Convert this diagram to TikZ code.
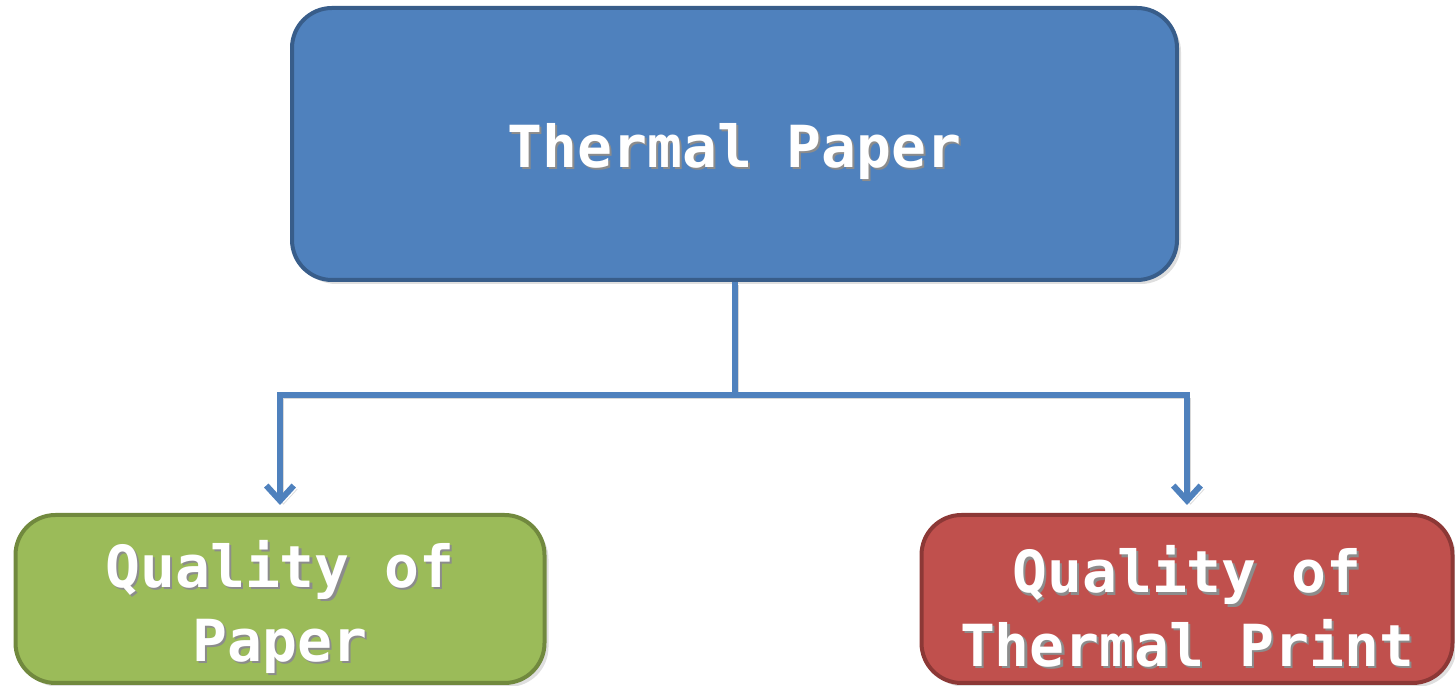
\documentclass[tikz,border=0pt]{standalone}
\usepackage{fontspec}
\setmonofont{DejaVu Sans Mono}
\usetikzlibrary{positioning,arrows.meta,shadows}
\definecolor{boxblue}{HTML}{4F81BD}
\definecolor{edgeblue}{HTML}{385D8A}
\definecolor{boxgreen}{HTML}{9BBB59}
\definecolor{edgegreen}{HTML}{71893E}
\definecolor{boxred}{HTML}{C0504D}
\definecolor{edgered}{HTML}{8C3836}
\newcommand{\shd}[1]{\raisebox{-5pt}[\height][\depth]{\rlap{\kern1.2pt\raisebox{-1.2pt}{\textcolor{black!45}{#1}}}#1}}
\begin{document}
\begin{tikzpicture}[
		box/.style={rounded corners=0.8cm, line width=0.08cm, align=center, text=white,
			font=\ttfamily\bfseries\fontsize{33}{42}\selectfont,
			drop shadow={opacity=0.25, shadow xshift=0.08cm, shadow yshift=-0.08cm}},
		link/.style={boxblue, line width=0.12cm,
			preaction={draw=black, opacity=0.15, transform canvas={shift={(0.07,-0.07)}}}},
		arr/.style={link, -{Straight Barb[length=0.3cm, width=0.55cm, line width=0.12cm]}, shorten >=0.16cm}]
		\useasboundingbox (0,0) rectangle (29.1,13.72);
		\node[box, fill=boxblue, draw=edgeblue, minimum width=17.7cm, minimum height=5.44cm] (tp) at (14.69,10.84) {\shd{Thermal Paper}};
		\node[box, fill=boxgreen, draw=edgegreen, minimum width=10.58cm, minimum height=3.36cm] (qp) at (5.6,1.74) {\shd{Quality of}\\\shd{Paper}};
		\node[box, fill=boxred, draw=edgered, minimum width=10.62cm, minimum height=3.36cm] (qt) at (23.74,1.74) {\shd{Quality of}\\\shd{Thermal Print}};
		\draw[link] (tp.south) -- ++(0,-2.26) coordinate (fork);
		\draw[arr] (fork) -| (qp.north);
		\draw[arr] (fork) -| (qt.north);
	\end{tikzpicture}
\end{document}
